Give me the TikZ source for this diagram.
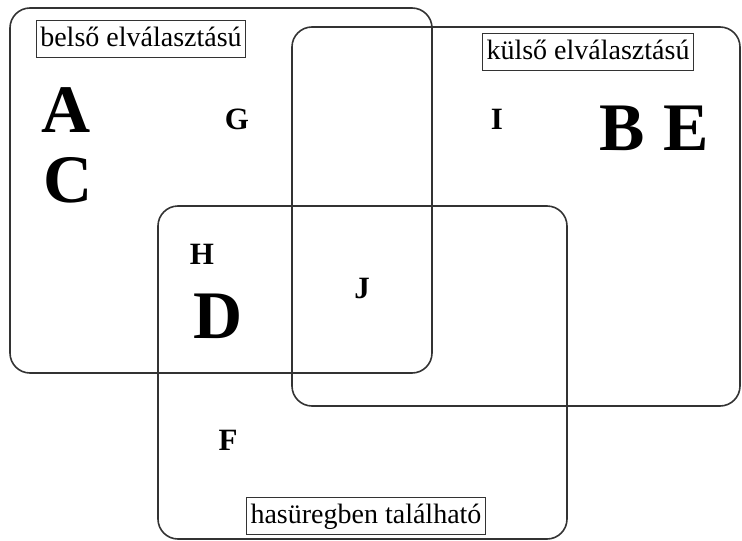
\documentclass[tikz,border=0pt]{standalone}
\usepackage{fontspec}
\setmainfont{Liberation Serif}
\usetikzlibrary{positioning}

\begin{document}
\begin{tikzpicture}
		[
			x = 1pt, y = -1pt,
			group/.style = {rectangle, rounded corners = 20pt, draw = black!80, line width = 1.6pt, inner sep = 0pt},
			tag/.style = {rectangle, draw = black!80, line width = 1.3pt, font = \fontsize{28}{28}\selectfont, text height = 19pt, text depth = 5pt, inner xsep = 4pt, inner ysep = 6.5pt},
			big/.style = {font = \fontsize{68}{68}\selectfont\bfseries, inner sep = 0pt},
			small/.style = {font = \fontsize{31}{31}\selectfont\bfseries, inner sep = 0pt},
		]
			\useasboundingbox (0,0) rectangle (742,541);
			%
			\node (belso) [group, minimum width = 422pt, minimum height = 365pt] at (221,190.5) {};
			\node (kulso) [group, minimum width = 448pt, minimum height = 379pt] at (516,216.5) {};
			\node (hasureg) [group, minimum width = 409pt, minimum height = 333pt] at (362.5,372.5) {};
			%
			\node (belsotag) [tag] at (141,39) {belső elválasztású};
			\node (kulsotag) [tag] at (588,52) {külső elválasztású};
			\node (hasuregtag) [tag] at (366,516) {hasüregben található};
			%
			\node (A) [big] at (66,110) {A};
			\node (C) [big] at (68,180) {C};
			\node (B) [big] at (622,128) {B};
			\node (E) [big] at (686,128) {E};
			\node (D) [big] at (218,316) {D};
			%
			\node (G) [small] at (237,119) {G};
			\node (I) [small] at (497,119) {I};
			\node (H) [small] at (202,254) {H};
			\node (J) [small] at (362,288) {J};
			\node (F) [small] at (228,440) {F};
			%
		\end{tikzpicture}
\end{document}
